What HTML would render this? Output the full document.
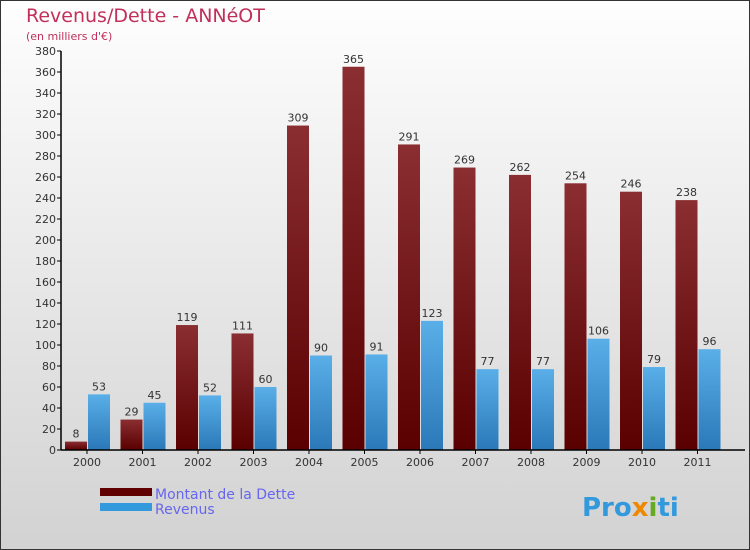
<!DOCTYPE html>
<html><head><meta charset="utf-8"><style>
body{margin:0;}
#c{width:750px;height:550px;position:relative;box-sizing:border-box;border:1px solid #333;background:linear-gradient(#fefefe,#d2d2d2);font-family:"DejaVu Sans","Liberation Sans",sans-serif;overflow:hidden}
</style></head><body>
<div id="c">
<svg width="750" height="550" id="svg" style="position:absolute;left:-1px;top:-1px">
<defs>
<linearGradient id="gd" x1="0" y1="0" x2="0" y2="1"><stop offset="0" stop-color="#8a2e32"/><stop offset="1" stop-color="#5a0000"/></linearGradient>
<linearGradient id="gr" x1="0" y1="0" x2="0" y2="1"><stop offset="0" stop-color="#5aafe8"/><stop offset="1" stop-color="#2a78b8"/></linearGradient>
</defs>
<text x="26" y="22" font-size="19" fill="#c0305a">Revenus/Dette - ANNéOT</text>
<text x="26" y="40" font-size="11" fill="#c0305a">(en milliers d'€)</text>
<g id="plot"></g>
<rect x="100" y="488" width="52" height="8" fill="#600000"/>
<rect x="100" y="503" width="52" height="8" fill="#3399dd"/>
<text x="155" y="499" font-size="14" fill="#6666ee">Montant de la Dette</text>
<text x="155" y="514" font-size="14" fill="#6666ee">Revenus</text>
<text x="582" y="516" font-size="26" font-weight="bold" fill="#3399dd">Pro<tspan fill="#ee8800">x</tspan><tspan fill="#66aa22">i</tspan>ti</text>
</svg>
</div>
<script>
const years=["2000","2001","2002","2003","2004","2005","2006","2007","2008","2009","2010","2011"];
const dette=[8,29,119,111,309,365,291,269,262,254,246,238];
const revenus=[53,45,52,60,90,91,123,77,77,106,79,96];
const yTicks=[0,20,40,60,80,100,120,140,160,180,200,220,240,260,280,300,320,340,360,380];
const NS="http://www.w3.org/2000/svg";
const g=document.getElementById("plot");
const x0=61,y0=450,yMax=380,ph=399,step=55.5;
const y=v=>y0-v/yMax*ph;
const xc=i=>87+i*step;
function mk(t,a,txt){const e=document.createElementNS(NS,t);for(const k in a)e.setAttribute(k,a[k]);if(txt!==undefined)e.textContent=txt;g.appendChild(e);return e;}
yTicks.forEach(v=>{
 const l=mk("line",{x1:x0-4,x2:x0,y1:y(v),y2:y(v),stroke:"#000"});
 
 
 const t=mk("text",{x:x0-5,y:y(v)+4,"font-size":"11","text-anchor":"end",fill:"#333"},v);
 
 
});
years.forEach((yr,i)=>{
 const c=xc(i);
 const b1=mk("rect",{x:c-22,y:y(dette[i]),width:22,height:y0-y(dette[i]),fill:"url(#gd)"});
 
 
 const b2=mk("rect",{x:c+1,y:y(revenus[i]),width:22,height:y0-y(revenus[i]),fill:"url(#gr)"});
 
 
 const t1=mk("text",{x:c-11,y:y(dette[i])-4,"font-size":"11","text-anchor":"middle",fill:"#333"},dette[i]);
 
 
 const t2=mk("text",{x:c+12,y:y(revenus[i])-4,"font-size":"11","text-anchor":"middle",fill:"#333"},revenus[i]);
 
 
 const tk=mk("line",{x1:c,x2:c,y1:y0,y2:y0+4,stroke:"#000"});
 
 
 const xl=mk("text",{x:c,y:y0+16,"font-size":"11","text-anchor":"middle",fill:"#333"},yr);
 
 
});
const ya=mk("line",{x1:x0,x2:x0,y1:y(380),y2:y0,stroke:"#000","stroke-width":1.5});


const xa=mk("line",{x1:x0,x2:745,y1:y0,y2:y0,stroke:"#000","stroke-width":1.5});


</script>
</body></html>
